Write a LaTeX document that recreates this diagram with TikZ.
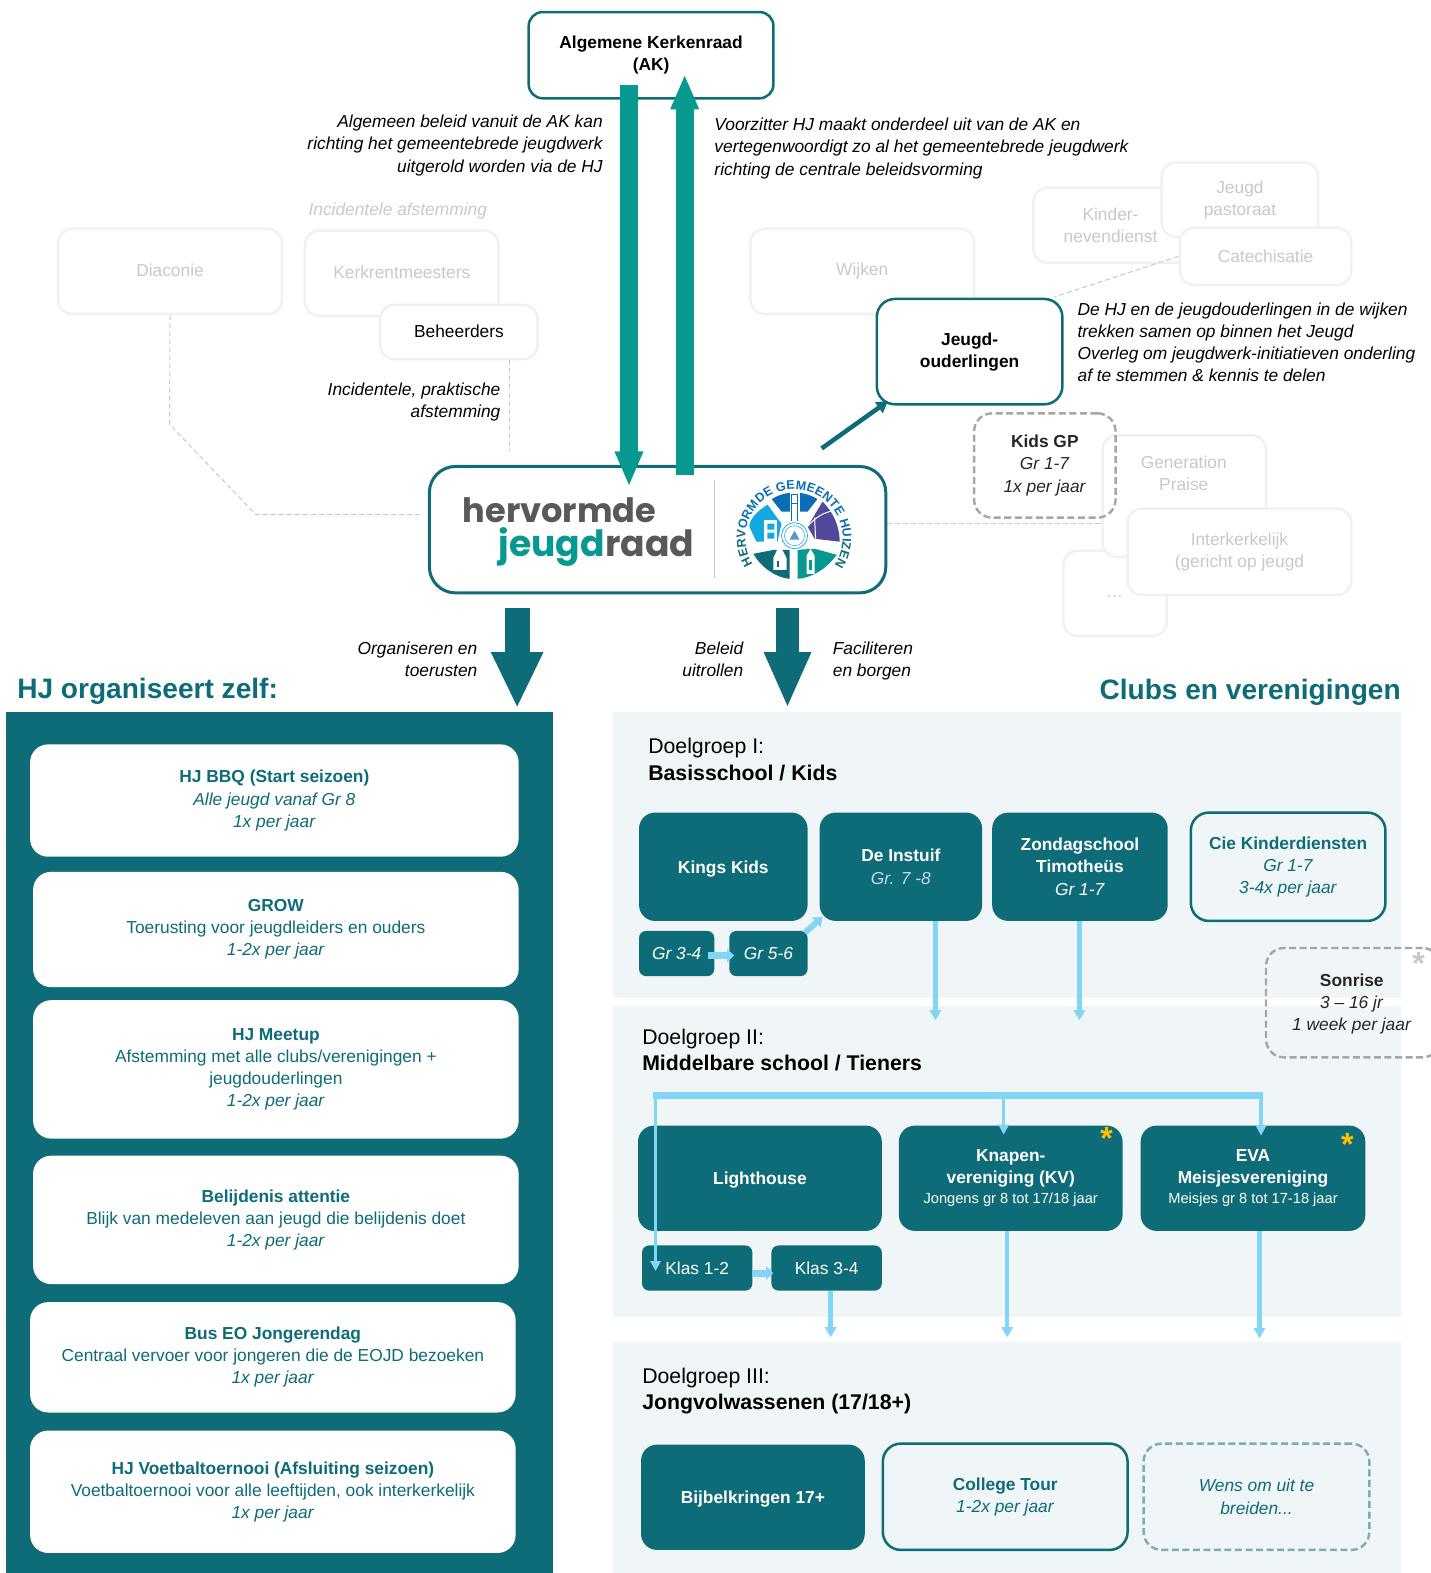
\documentclass[tikz,border=0pt]{standalone}
\usepackage{fontspec}
\setmainfont{Liberation Sans}
\newfontfamily\logofont{Poppins Bold}
\usetikzlibrary{arrows.meta, decorations.text}
\definecolor{hjteal}{HTML}{0E6C79}
\definecolor{aqua}{HTML}{07998F}
\definecolor{sky}{HTML}{83D5F5}
\definecolor{mist}{HTML}{F0F5F8}
\definecolor{softline}{HTML}{F1F1F1}
\definecolor{softtext}{HTML}{C9C9C9}
\definecolor{dashgrey}{HTML}{A6A6A6}
\definecolor{ink}{HTML}{262626}
\definecolor{logogrey}{HTML}{58595B}
\definecolor{sealblue}{HTML}{0A6DB5}
\definecolor{seallight}{HTML}{12A9E1}
\definecolor{sealpurple}{HTML}{51479B}
\definecolor{gold}{HTML}{FFC000}
\tikzset{
    label/.style = {inner sep = 0, align = center, font = \fontsize{17.3}{22}\selectfont},
    softbox/.style = {label, draw = softline, fill = white, line width = 2.5, rounded corners = 14, text = softtext},
    liftbox/.style = {softbox, execute at begin node = {\rule[-2.5pt]{0pt}{3pt}}},
    linebox/.style = {label, draw = hjteal, line width = 2.5, rounded corners = 16, execute at begin node = {\rule{0pt}{16.4pt}}},
    solidtag/.style = {label, fill = hjteal, rounded corners = 7, text = white, minimum height = 45},
    solidbox/.style = {label, fill = hjteal, rounded corners = 16, text = white, execute at begin node = {\rule{0pt}{16.4pt}}},
    clubbox/.style = {label, fill = hjteal, rounded corners = 16, text = white, minimum height = 105, execute at begin node = {\rule{0pt}{20pt}}},
    cardbox/.style = {label, fill = white, rounded corners = 18, text = hjteal, execute at begin node = {\rule{0pt}{17.4pt}}},
    dashbox/.style = {label, draw = dashgrey, dashed, dash pattern = on 7pt off 3.5pt, line width = 2.4, rounded corners = 18, text = ink, execute at begin node = {\rule{0pt}{16.4pt}}},
    note/.style = {label, font = \fontsize{17.3}{22}\selectfont\itshape},
    heading/.style = {inner sep = 0, text = hjteal, font = \fontsize{28}{30}\selectfont\bfseries},
    groupname/.style = {inner sep = 0, anchor = west, align = left, font = \fontsize{21.2}{26.5}\selectfont},
    softdash/.style = {draw = softtext, dashed, dash pattern = on 5pt off 3pt, line width = 1},
    bigarrow/.style = {-{Triangle[width = 26pt, length = 35pt]}, aqua, line width = 18},
    fatarrow/.style 2 args = {-{Triangle[width = #1pt, length = 56pt]}, hjteal, line width = #2},
    skyarrow/.style = {-{Triangle[width = 11pt, length = 10pt]}, sky, line width = 4.5},
    skyfeed/.style = {-{Triangle[width = 10pt, length = 10pt]}, sky, line width = 3.5},
    skystep/.style = {-{Triangle[width = 13pt, length = 7pt]}, sky, line width = 7},
    star/.style = {inner sep = 0, text = #1, font = \fontsize{32}{32}\selectfont\bfseries}
}
\begin{document}
\begin{tikzpicture}[x = 1pt, y = -1pt]
    \useasboundingbox (0, 0) rectangle (1426, 1568);

    \node [liftbox, minimum width = 223, minimum height = 85] (diaconie) at (169.5, 270.5) {Diaconie};
    \node [liftbox, minimum width = 193, minimum height = 85] (kerkrent) at (400.5, 272.5) {Kerkrentmeesters};
    \node [liftbox, minimum width = 157, minimum height = 54, text = black] (beheerders) at (457.5, 331) {Beheerders};
    \node [softbox, minimum width = 223, minimum height = 85] (wijken) at (859.5, 270.5) {Wijken};
    \node [softbox, minimum width = 154, minimum height = 75] (kinder) at (1107, 224.5) {Kinder-\\nevendienst};
    \node [softbox, minimum width = 156, minimum height = 74] (pastoraat) at (1236, 199) {Jeugd\\pastoraat};
    \node [softbox, minimum width = 171, minimum height = 57] (catechisatie) at (1261.5, 255.5) {Catechisatie};
    \node [softbox, minimum width = 103, minimum height = 85] (overig) at (1111.5, 591.5) {};
    \node [softbox, minimum width = 163, minimum height = 121] (generation) at (1180.5, 494.5) {};
    \node [label, text = softtext] (generationtext) at (1180, 471.5) {Generation\\Praise};
    \node [softbox, minimum width = 223, minimum height = 86] (interkerk) at (1235.5, 550) {Interkerkelijk\\(gericht op jeugd};
    \node [label, text = softtext] (overigtext) at (1111, 595) {…};
    \node [dashbox, minimum width = 141, minimum height = 104] (kidsgp) at (1041.5, 464) {\textbf{Kids GP}\\\textit{Gr 1-7}\\\textit{1x per jaar}};

    \coordinate (diaconiebend) at (169, 423);
    \coordinate (diaconieknik) at (255, 513);
    \coordinate (diaconieend) at (418, 513);
    \coordinate (beheerdersend) at (508, 450);
    \coordinate (hjright) at (884, 522);
    \coordinate (jeugdcorner) at (1051, 296);
    \draw [softdash] (diaconie.south) -- (diaconiebend) -- (diaconieknik) -- (diaconieend);
    \draw [softdash] (beheerdersend |- beheerders.south) -- (beheerdersend);
    \draw [softdash] (hjright) -- (generation.west |- hjright);
    \draw [softdash] (catechisatie.west) -- (jeugdcorner);

    \node [note, text = softtext] (incidenteel) at (396.5, 210) {Incidentele afstemming};
    \node [note, anchor = east, align = right] (praktisch) at (499, 401) {Incidentele, praktische\\afstemming};
    \node [note, anchor = east, align = right] (beleidnote) at (601, 145) {Algemeen beleid vanuit de AK kan\\richting het gemeentebrede jeugdwerk\\uitgerold worden via de HJ};
    \node [note, anchor = west, align = left] (voorzitternote) at (712, 148) {Voorzitter HJ maakt onderdeel uit van de AK en\\vertegenwoordigt zo al het gemeentebrede jeugdwerk\\richting de centrale beleidsvorming};
    \node [note, anchor = west, align = left] (jeugdnote) at (1074, 341) {De HJ en de jeugdouderlingen in de wijken\\trekken samen op binnen het Jeugd\\Overleg om jeugdwerk-initiatieven onderling\\af te stemmen \& kennis te delen};

    \node [linebox, fill = white, minimum width = 244, minimum height = 86, rounded corners = 14] (ak) at (649, 55) {\textbf{Algemene Kerkenraad}\\\textbf{(AK)}};
    \node [linebox, fill = white, minimum width = 185, minimum height = 105, rounded corners = 18] (jeugdoud) at (966.5, 350.5) {\textbf{Jeugd-}\\\textbf{ouderlingen}};
    \node [linebox, fill = white, minimum width = 455, minimum height = 126, rounded corners = 26, line width = 3] (hj) at (655.5, 528) {};

    \node [inner sep = 0, anchor = base west, text = logogrey, font = \fontsize{33.5}{34}\logofont] (hervormde) at (461, 521) {hervormde};
    \node [inner sep = 0, anchor = base west, text = logogrey, font = \fontsize{36}{36}\logofont] (jeugdraad) at (497, 555) {\textcolor{aqua}{jeugd}raad};
    \draw [softtext, line width = 1.5] (712, 478) -- (712, 576);

    \begin{scope}[shift = {(792, 534)}, x = 1pt, y = 1pt]
        \fill [sealblue] (122:43) arc (122:58:43) -- (13, 24) -- (-13, 24) -- cycle;
        \fill [seallight] (-27, 31) .. controls (-38, 24) and (-45, 16) .. (-45, 9) -- (-38, -6) -- (-17, -6) -- (-13, 12) -- cycle;
        \fill [sealpurple] (28, 34) .. controls (38, 24) and (45, 10) .. (45, -6) -- (20, -3) -- (13, 9) -- cycle;
        \fill [aqua] (42, -19) .. controls (33, -32) and (18, -42) .. (3, -43) -- (3, -14) -- (20, -13) -- cycle;
        \fill [hjteal] (-41, -18) .. controls (-33, -32) and (-18, -42) .. (-5, -43) -- (-5, -14) -- (-20, -14) -- cycle;
        \fill [white] (-5, 14) rectangle (5, 44);
        \draw [sealblue, line width = .7] (-3, 15) -- (-3, 41) -- (3, 41) -- (3, 15) (-3, 32) -- (3, 32);
        \fill [white] (-30, 16) rectangle (-17, -6);
        \fill [seallight] (-27, 12) rectangle (-20, 6) (-27, 3) rectangle (-20, -3);
        \draw [white, line width = 1] (13, 9) .. controls (20, 18) and (30, 24) .. (40, 25);
        \draw [white, line width = 1] (20, 18) -- (21, -3);
        \fill [white] (-21, -34) rectangle (-8, -22) (-21, -22) -- (-15, -9) -- (-8, -22) -- cycle;
        \fill [hjteal] (-17, -31) rectangle (-15, -25);
        \fill [white] (12, -38) rectangle (20, -20) (12, -20) -- (16, -13) -- (20, -20) -- cycle;
        \fill [aqua] (14.5, -34) rectangle (17.5, -24);
        \fill [white] (0, 0) circle (14.5);
        \draw [seallight, line width = .7] (0, 0) circle (13);
        \draw [seallight, line width = .5] (0, 0) circle (10);
        \fill [sealblue!70!white] (-5, -4) -- (0, 5) -- (5, -4) -- cycle;
        \path [decorate, decoration = {text along path, text align = {fit to path}, text = {|\fontsize{12.5}{12.5}\selectfont\bfseries\color{hjteal}|HERV|\fontsize{12.5}{12.5}\selectfont\bfseries\color{sealblue}|ORMDE GEMEENTE HUI|\fontsize{12.5}{12.5}\selectfont\bfseries\color{hjteal}|ZEN}}] (-.5, -2.5) + (212:48.5) arc (212:-34:48.5);
    \end{scope}

    \coordinate (akdownstart) at (627, 85);
    \coordinate (akdownend) at (627, 485);
    \coordinate (akupstart) at (682.5, 473);
    \coordinate (akupend) at (682.5, 74);
    \coordinate (jeugdstart) at (819, 447);
    \coordinate (jeugdend) at (885, 400);
    \draw [bigarrow] (akdownstart) -- (akdownend);
    \draw [bigarrow] (akupstart) -- (akupend);
    \draw [-{Triangle[width = 13pt, length = 11pt]}, hjteal, line width = 4.5] (jeugdstart) -- (jeugdend);

    \coordinate (leftstart) at (515.5, 606);
    \coordinate (leftend) at (515.5, 706);
    \coordinate (rightstart) at (785, 606);
    \coordinate (rightend) at (785, 706);
    \draw [fatarrow = {48}{25}] (leftstart) -- (leftend);
    \draw [fatarrow = {43}{23}] (rightstart) -- (rightend);
    \node [note, anchor = east, align = right] (organiseren) at (476, 657) {Organiseren en\\toerusten};
    \node [note, anchor = east, align = right] (beleidrol) at (741, 657) {Beleid\\uitrollen};
    \node [note, anchor = west, align = left] (faciliteren) at (830, 659) {Faciliteren\\en borgen};

    \node [heading, anchor = west] (zelf) at (17, 689) {HJ organiseert zelf:};
    \node [heading, anchor = east] (clubs) at (1396.5, 690) {Clubs en verenigingen};

    \fill [hjteal] (6, 710) rectangle (551, 1568);
    \node [cardbox, minimum width = 487, minimum height = 112] (bbq) at (273.5, 798) {\textbf{HJ BBQ (Start seizoen)}\\\textit{Alle jeugd vanaf Gr 8}\\\textit{1x per jaar}};
    \node [cardbox, minimum width = 484, minimum height = 115] (grow) at (275, 926.5) {\textbf{GROW}\\Toerusting voor jeugdleiders en ouders\\\textit{1-2x per jaar}};
    \node [cardbox, minimum width = 484, minimum height = 138] (meetup) at (275, 1066) {\textbf{HJ Meetup}\\Afstemming met alle clubs/verenigingen +\\jeugdouderlingen\\\textit{1-2x per jaar}};
    \node [cardbox, minimum width = 484, minimum height = 128] (belijdenis) at (275, 1216) {\textbf{Belijdenis attentie}\\Blijk van medeleven aan jeugd die belijdenis doet\\\textit{1-2x per jaar}};
    \node [cardbox, minimum width = 484, minimum height = 110] (bus) at (272, 1353) {\textbf{Bus EO Jongerendag}\\Centraal vervoer voor jongeren die de EOJD bezoeken\\\textit{1x per jaar}};
    \node [cardbox, minimum width = 484, minimum height = 122] (voetbal) at (272, 1487) {\textbf{HJ Voetbaltoernooi (Afsluiting seizoen)}\\Voetbaltoernooi voor alle leeftijden, ook interkerkelijk\\\textit{1x per jaar}};

    \fill [mist] (611, 710) rectangle (1397, 995);
    \fill [mist] (611, 1003) rectangle (1397, 1313);
    \fill [mist] (611, 1338) rectangle (1397, 1568);

    \node [groupname] (groep1) at (646, 757) {Doelgroep I:\\\textbf{Basisschool / Kids}};
    \node [groupname] (groep2) at (640, 1046.5) {Doelgroep II:\\\textbf{Middelbare school / Tieners}};
    \node [groupname] (groep3) at (640, 1386.5) {Doelgroep III:\\\textbf{Jongvolwassenen (17/18+)}};

    \node [solidbox, minimum width = 168, minimum height = 108] (kings) at (721, 864) {\textbf{Kings Kids}};
    \node [solidbox, minimum width = 162, minimum height = 108] (instuif) at (898, 864) {\textbf{De Instuif}\\\textit{\textcolor{white!75!hjteal}{Gr. 7 -8}}};
    \node [solidbox, minimum width = 175, minimum height = 108] (zondag) at (1076.5, 864) {\textbf{Zondagschool}\\\textbf{Timotheüs}\\\textit{Gr 1-7}};
    \node [linebox, text = hjteal, minimum width = 194, minimum height = 108, rounded corners = 18] (kinderdienst) at (1284, 864) {\textbf{Cie Kinderdiensten}\\\textit{Gr 1-7}\\\textit{3-4x per jaar}};
    \node [solidtag, minimum width = 75] (gr34) at (674.5, 950.5) {\textit{Gr 3-4}};
    \node [solidtag, minimum width = 78] (gr56) at (766, 950.5) {\textit{Gr 5-6}};
    \draw [skystep] ([xshift = -6pt, yshift = -2pt]gr34.east) -- ([xshift = 5pt, yshift = -2pt]gr56.west);
    \draw [skystep, -{Triangle[width = 13pt, length = 8pt]}, line width = 6] ([xshift = -3pt, yshift = -2pt]gr56.north east) -- ([xshift = 3pt, yshift = 4pt]instuif.south west);

    \coordinate (instuifend) at (932.5, 1017);
    \coordinate (zondagend) at (1076, 1017);
    \draw [skyarrow] (instuifend |- instuif.south) -- (instuifend);
    \draw [skyarrow] (zondagend |- zondag.south) -- (zondagend);

    \node [dashbox, minimum width = 174, minimum height = 109] (sonrisebox) at (1349, 999.5) {};
    \node [label, text = ink] (sonrise) at (1347.5, 1001) {\textbf{Sonrise}\\\textit{3 – 16 jr}\\\textit{1 week per jaar}};
    \node [star = softtext] (sonrisestar) at (1414, 960) {*};

    \node [solidbox, minimum width = 243, minimum height = 105] (lighthouse) at (757.5, 1174.5) {\textbf{Lighthouse}};
    \node [clubbox, minimum width = 223] (knapen) at (1007.5, 1174.5) {\textbf{Knapen-}\\\textbf{vereniging (KV)}\\[-2pt]{\fontsize{14.6}{20}\selectfont Jongens gr 8 tot 17/18 jaar}};
    \node [clubbox, minimum width = 224] (eva) at (1249, 1174.5) {\textbf{EVA}\\\textbf{Meisjesvereniging}\\[-2pt]{\fontsize{14.6}{20}\selectfont Meisjes gr 8 tot 17-18 jaar}};
    \node [star = gold] (knapenstar) at (1103, 1135) {*};
    \node [star = gold] (evastar) at (1343, 1141) {*};
    \node [solidtag, minimum width = 110] (klas12) at (695, 1264) {Klas 1-2};
    \node [solidtag, minimum width = 110] (klas34) at (824, 1264) {Klas 3-4};
    \draw [skystep] ([yshift = -5pt]klas12.east) -- ([xshift = 2pt, yshift = -5pt]klas34.west);

    \coordinate (splitleft) at (651, 1092);
    \coordinate (splitright) at (1259, 1092);
    \coordinate (klasin) at (653.5, 1267);
    \coordinate (knapenin) at (1000.5, 1131);
    \coordinate (evain) at (1257, 1132);
    \draw [sky, line width = 6] (splitleft) -- (splitright);
    \draw [skyfeed] (klasin |- splitleft) -- (klasin);
    \draw [skyfeed] (knapenin |- splitleft) -- (knapenin);
    \draw [skyfeed] (evain |- splitleft) -- (evain);

    \coordinate (klasend) at (828, 1333);
    \coordinate (knapenend) at (1004, 1333);
    \coordinate (evaend) at (1255.5, 1334);
    \draw [skyarrow] (klasend |- klas34.south) -- (klasend);
    \draw [skyarrow] (knapenend |- knapen.south) -- (knapenend);
    \draw [skyarrow] (evaend |- eva.south) -- (evaend);

    \node [solidbox, minimum width = 223, minimum height = 105] (bijbel) at (750.5, 1492.5) {\textbf{Bijbelkringen 17+}};
    \node [linebox, text = hjteal, minimum width = 244, minimum height = 106, rounded corners = 18] (college) at (1002, 1492) {\textbf{College Tour}\\\textit{1-2x per jaar}};
    \node [dashbox, draw = hjteal!55, text = hjteal, minimum width = 225, minimum height = 106] (wens) at (1252.5, 1492) {\textit{Wens om uit te}\\\textit{breiden...}};
\end{tikzpicture}
\end{document}
